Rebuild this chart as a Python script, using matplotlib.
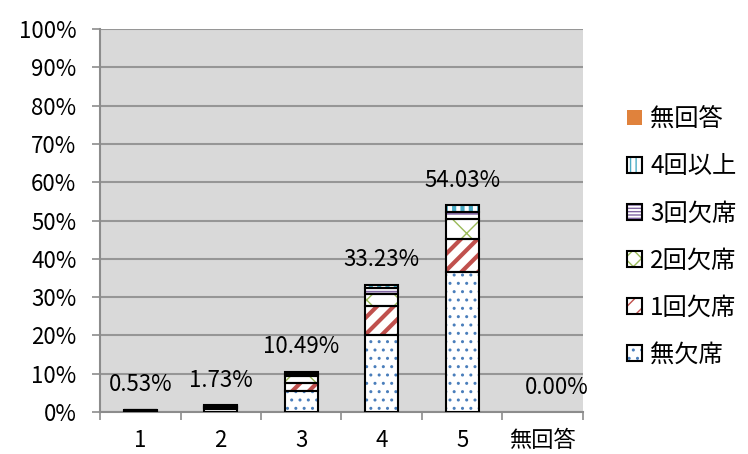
import numpy as np
import matplotlib
matplotlib.use("Agg")
import matplotlib.pyplot as plt
from matplotlib.patches import Patch
from matplotlib.legend_handler import HandlerTuple
from matplotlib.ticker import FixedLocator, PercentFormatter

plt.rcParams['font.family'] = ['Noto Sans CJK JP', 'DejaVu Sans']

# data (percent of all respondents)
categories = ['1', '2', '3', '4', '5', '無回答']
no_absence = [0.20, 0.70, 5.40, 20.20, 36.60, 0.0]
absent_1 = [0.13, 0.40, 2.20, 7.50, 8.70, 0.0]
absent_2 = [0.10, 0.30, 1.90, 3.10, 5.00, 0.0]
absent_3 = [0.05, 0.20, 0.50, 1.50, 2.00, 0.0]
absent_4plus = [0.05, 0.13, 0.49, 0.93, 1.73, 0.0]
no_answer = [0.0, 0.0, 0.0, 0.0, 0.0, 0.0]
totals = [0.53, 1.73, 10.49, 33.23, 54.03, 0.00]

# name, values, colour, bar hatch, legend hatch, hatch line width
series = [
    ('無欠席', no_absence, '#4a7ebb', '..', '..', 1.0),
    ('1回欠席', absent_1, '#c0504d', '//', '//', 3.0),
    ('2回欠席', absent_2, '#9bbb59', 'x', 'xx', 1.0),
    ('3回欠席', absent_3, '#8064a2', '---', '-----', 1.2),
    ('4回以上', absent_4plus, '#4bacc6', '||', '|||', 3.0),
    ('無回答', no_answer, '#e0823c', None, None, 1.0),
]

fig = plt.figure(figsize=(7.48, 4.54), dpi=100)
ax = fig.add_axes([0.1337, 0.0925, 0.6457, 0.8435])
ax.set_facecolor('#d9d9d9')

x = np.arange(len(categories))
width = 0.41
bottom = np.zeros(len(categories))
handles = []
for name, vals, color, hatch, leg_hatch, hlw in series:
    vals = np.array(vals)
    keep = vals > 0
    with plt.rc_context({'hatch.linewidth': hlw}):
        if hatch:
            ax.bar(x[keep], vals[keep], width, bottom=bottom[keep], color='white',
                   edgecolor=color, hatch=hatch, linewidth=0, zorder=3)
            h1 = Patch(facecolor='white', edgecolor=color, hatch=leg_hatch, linewidth=0)
        else:
            ax.bar(x[keep], vals[keep], width, bottom=bottom[keep], color=color,
                   linewidth=0, zorder=3)
            h1 = Patch(facecolor=color, linewidth=0)
    ax.bar(x[keep], vals[keep], width, bottom=bottom[keep], color='none',
           edgecolor='black', linewidth=1.5, zorder=4)
    if hatch:
        h2 = Patch(facecolor='none', edgecolor='black', linewidth=1.5)
        handles.append((h1, h2))
    else:
        handles.append((h1,))
    bottom += vals

# value labels above bars
for i, t in enumerate(totals):
    dx = 10 if t == 0 else 0
    ax.annotate(f'{t:.2f}%', (x[i], t), xytext=(dx, 18), textcoords='offset points',
                ha='center', va='center', fontsize=16, zorder=5)

ax.set_xlim(-0.5, len(categories) - 0.5)
ax.set_ylim(0, 100)
ax.yaxis.set_major_locator(FixedLocator(np.arange(0, 101, 10)))
ax.yaxis.set_major_formatter(PercentFormatter(decimals=0))
ax.set_xticks(x)
ax.set_xticklabels(categories)
ax.xaxis.set_minor_locator(FixedLocator(np.arange(-0.5, len(categories), 1.0)))
ax.tick_params(axis='x', which='major', length=0, pad=12, labelsize=16)
ax.tick_params(axis='x', which='minor', length=6, color='#8c8c8c', width=1.2)
ax.tick_params(axis='y', length=6, color='#8c8c8c', width=1.2, pad=11, labelsize=16)
ax.grid(axis='y', color='#969696', linewidth=1.5, zorder=1)
ax.set_axisbelow(True)
for s in ['top', 'right']:
    ax.spines[s].set_visible(False)
for s in ['left', 'bottom']:
    ax.spines[s].set_color('#8c8c8c')
    ax.spines[s].set_linewidth(1.5)

leg = ax.legend(handles[::-1], [s[0] for s in series][::-1],
                handler_map={tuple: HandlerTuple(ndivide=1, pad=0)},
                loc='center left', bbox_to_anchor=(1.07, 0.457), frameon=False,
                fontsize=17.5, handlelength=0.62, handleheight=0.62,
                handletextpad=0.35, labelspacing=0.87, borderaxespad=0)

fig.savefig('out.png', dpi=100)
